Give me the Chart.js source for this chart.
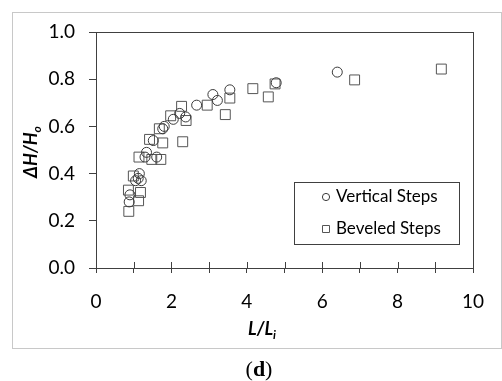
<!DOCTYPE html>
<html>
<head>
<meta charset="utf-8">
<script src="https://cdn.jsdelivr.net/npm/chart.js@4.4.1/dist/chart.umd.min.js"></script>
<style>
html,body{margin:0;padding:0;background:#fff;}
#wrap{width:502px;height:381px;position:relative;}
</style>
</head>
<body>
<div id="wrap"><canvas id="c" width="502" height="381"></canvas></div>
<script>
// ---- data ----
const seriesNames = ["Vertical Steps", "Beveled Steps"];
const verticalX = [0.88,0.90,1.05,1.12,1.15,1.20,1.30,1.34,1.52,1.61,1.77,1.81,2.05,2.22,2.38,2.67,3.10,3.22,3.55,4.78,6.40];
const verticalY = [0.28,0.31,0.37,0.38,0.40,0.37,0.47,0.49,0.54,0.47,0.59,0.60,0.63,0.655,0.64,0.69,0.735,0.71,0.755,0.785,0.83];
const beveledX = [0.87,0.86,1.13,1.18,0.99,1.14,1.48,1.72,1.42,1.77,2.30,1.68,1.98,2.27,2.39,2.95,3.43,3.55,4.16,4.57,4.75,6.86,9.16];
const beveledY = [0.24,0.33,0.285,0.32,0.39,0.47,0.46,0.46,0.545,0.53,0.535,0.59,0.645,0.685,0.625,0.69,0.65,0.72,0.76,0.725,0.78,0.797,0.843];
const xTicks = [0,2,4,6,8,10];
const yTicks = [0.0,0.2,0.4,0.6,0.8,1.0];
const xTitle = ["L/L", "i"];
const yTitle = ["\u0394H/H", "o"];
const panelLabel = ["(", "d", ")"];

const FONT = "Lato, 'Open Sans', sans-serif";
const SERIF = "'Liberation Serif', 'DejaVu Serif', serif";
const AXIS = "#404040";

function pts(xs, ys){ return xs.map((x,i)=>({x:x, y:ys[i]})); }

const framePlugin = {
  id: 'frame',
  beforeDraw(chart){
    const ctx = chart.ctx;
    ctx.save();
    ctx.strokeStyle = '#c8c8c8';
    ctx.lineWidth = 1;
    ctx.strokeRect(12.5, 12.5, 489, 336);
    ctx.restore();
  },
  afterDraw(chart){
    const ctx = chart.ctx, a = chart.chartArea;
    const xs = chart.scales.x;
    ctx.save();
    ctx.strokeStyle = AXIS;
    ctx.lineWidth = 1;
    // plot frame
    ctx.strokeRect(Math.round(a.left)+0.5, Math.round(a.top)+0.5, Math.round(a.right-a.left), Math.round(a.bottom-a.top));
    // inner half of crossing x ticks
    xs.ticks.forEach(t=>{
      const px = Math.round(xs.getPixelForValue(t.value))+0.5;
      ctx.beginPath(); ctx.moveTo(px, a.bottom-6); ctx.lineTo(px, a.bottom); ctx.stroke();
    });
    // axis titles
    ctx.fillStyle = '#000';
    const cx = 262;
    ctx.font = "italic bold 18px " + FONT;
    const w1 = ctx.measureText(xTitle[0]).width;
    ctx.font = "italic bold 12px " + FONT;
    const w2 = ctx.measureText(xTitle[1]).width;
    let sx = cx - (w1+w2)/2;
    ctx.textBaseline = 'alphabetic'; ctx.textAlign = 'left';
    ctx.font = "italic bold 18px " + FONT;
    ctx.fillText(xTitle[0], sx, 335);
    ctx.font = "italic bold 12px " + FONT;
    ctx.fillText(xTitle[1], sx + w1, 339);
    // y title rotated
    ctx.save();
    ctx.translate(37, 152);
    ctx.rotate(-Math.PI/2);
    ctx.font = "italic bold 18px " + FONT;
    const v1 = ctx.measureText(yTitle[0]).width;
    ctx.font = "italic bold 12px " + FONT;
    const v2 = ctx.measureText(yTitle[1]).width;
    let sy = -(v1+v2)/2;
    ctx.font = "italic bold 18px " + FONT;
    ctx.fillText(yTitle[0], sy, 0);
    ctx.font = "italic bold 12px " + FONT;
    ctx.fillText(yTitle[1], sy + v1, 4);
    ctx.restore();
    // panel label
    const fN = "22px " + SERIF, fB = "bold 22px " + SERIF;
    ctx.font = fN;
    const p1 = ctx.measureText(panelLabel[0]).width;
    ctx.font = fB;
    const p2 = ctx.measureText(panelLabel[1]).width;
    ctx.font = fN;
    const p3 = ctx.measureText(panelLabel[2]).width;
    let lx = 259 - (p1+p2+p3)/2;
    ctx.fillText(panelLabel[0], lx, 376);
    ctx.font = fB;
    ctx.fillText(panelLabel[1], lx+p1, 376);
    ctx.font = fN;
    ctx.fillText(panelLabel[2], lx+p1+p2, 376);
    // legend box
    const bx = 294.5, by = 182.5, bw = 165, bh = 62;
    ctx.strokeStyle = AXIS;
    ctx.strokeRect(bx, by, bw, bh);
    ctx.textBaseline = 'middle';
    chart.data.datasets.forEach((ds,i)=>{
      const yy = 197 + i*32;
      ctx.strokeStyle = ds.borderColor;
      ctx.lineWidth = 1;
      ctx.beginPath();
      if (ds.pointStyle === 'rect') {
        ctx.rect(322.5, yy-3.5, 7, 7);
      } else {
        ctx.arc(326, yy, 3.6, 0, Math.PI*2);
      }
      ctx.stroke();
      ctx.fillStyle = '#000';
      ctx.font = "17px " + FONT;
      ctx.fillText(ds.label, 336, yy);
    });
    ctx.restore();
  }
};

new Chart(document.getElementById('c'), {
  type: 'scatter',
  data: {
    datasets: [
      { label: seriesNames[0], data: pts(verticalX, verticalY), pointStyle: 'circle', pointRadius: 5,
        borderColor: '#3a3a3a', backgroundColor: 'rgba(0,0,0,0)', borderWidth: 1, pointHoverRadius: 5 },
      { label: seriesNames[1], data: pts(beveledX, beveledY), pointStyle: 'rect', pointRadius: 7,
        borderColor: '#555555', backgroundColor: 'rgba(0,0,0,0)', borderWidth: 1, pointHoverRadius: 7 }
    ]
  },
  options: {
    responsive: false,
    animation: false,
    events: [],
    layout: { padding: { left: 36, top: 32, right: 29, bottom: 53 } },
    plugins: { legend: { display: false }, tooltip: { enabled: false } },
    scales: {
      x: {
        type: 'linear', min: 0, max: 10,
        afterFit(s){ s.height = 60; },
        border: { display: true, color: AXIS, width: 1 },
        grid: { drawOnChartArea: false, drawTicks: true, tickLength: 5, color: AXIS },
        ticks: {
          stepSize: 1, autoSkip: false, maxRotation: 0, padding: 17,
          color: '#000', font: { family: FONT, size: 19 },
          callback: v => xTicks.includes(v) ? String(v) : ''
        }
      },
      y: {
        type: 'linear', min: 0, max: 1,
        afterFit(s){ s.width = 60; },
        border: { display: true, color: AXIS, width: 1 },
        grid: { drawOnChartArea: false, drawTicks: true, tickLength: 7, color: AXIS },
        ticks: {
          stepSize: 0.2, autoSkip: false, padding: 14,
          color: '#000', font: { family: FONT, size: 19 },
          callback: v => { const m = yTicks.find(t=>Math.abs(t-v)<1e-9); return m===undefined ? '' : m.toFixed(1); }
        }
      }
    }
  },
  plugins: [framePlugin]
});
</script>
</body>
</html>
